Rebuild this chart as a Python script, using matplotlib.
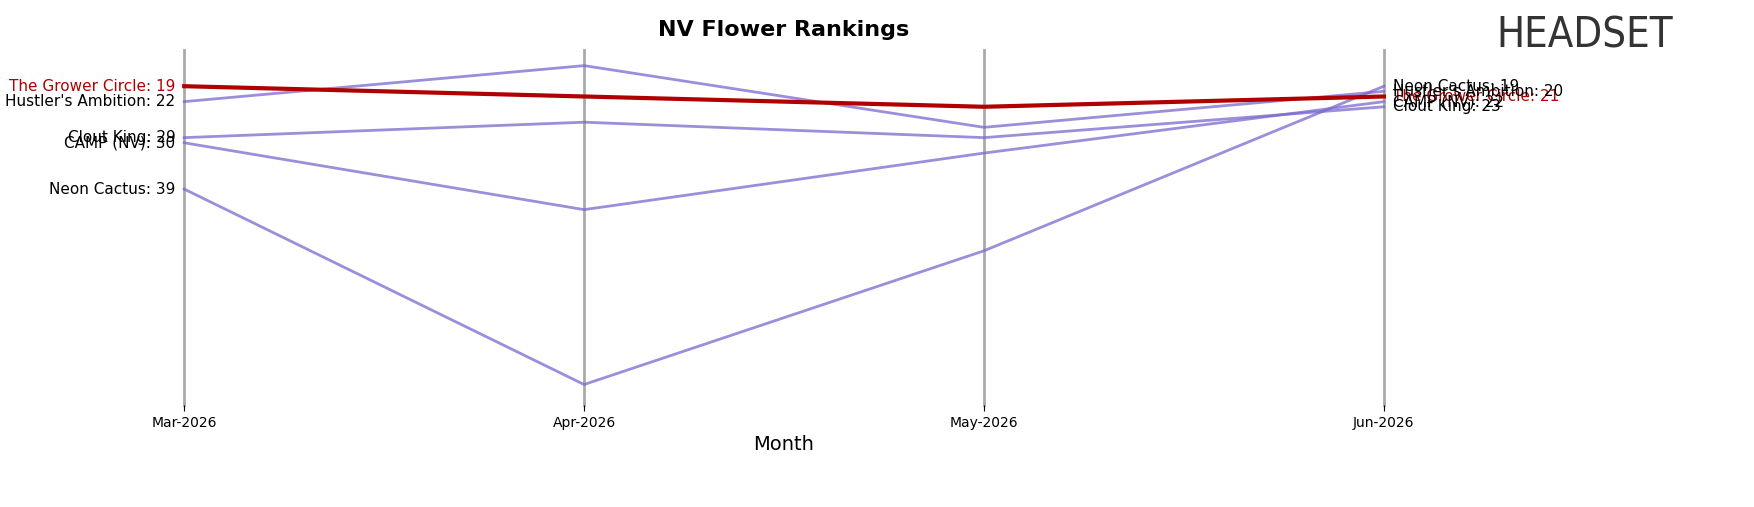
import matplotlib.pyplot as plt

months = ["Mar-2026", "Apr-2026", "May-2026", "Jun-2026"]
brands = ["The Grower Circle", "Hustler's Ambition", "Clout King", "CAMP (NV)", "Neon Cactus"]
ranks = {
    "The Grower Circle": [19, 21, 23, 21],
    "Hustler's Ambition": [22, 15, 27, 20],
    "Clout King": [29, 26, 29, 23],
    "CAMP (NV)": [30, 43, 32, 22],
    "Neon Cactus": [39, 77, 51, 19],
}
highlight = "The Grower Circle"

fig = plt.figure(figsize=(17.54, 5.07), dpi=100)
ax = fig.add_axes([0.105, 0.201, 0.684, 0.70])
x = list(range(len(months)))

for b in brands:
    if b == highlight:
        continue
    ax.plot(x, ranks[b], color="#7b68d0", alpha=0.75, linewidth=2, clip_on=False)
ax.plot(x, ranks[highlight], color="#b00000", linewidth=3, zorder=5, clip_on=False)

for b in brands:
    col = "#b00000" if b == highlight else "black"
    ax.text(-0.022, ranks[b][0], f"{b}: {ranks[b][0]}", ha="right", va="center", fontsize=11, color=col)
    ax.text(3.022, ranks[b][-1], f"{b}: {ranks[b][-1]}", ha="left", va="center", fontsize=11, color=col)

for xi in x:
    ax.axvline(xi, color="#aaaaaa", linewidth=2, zorder=0, clip_on=False)

ax.set_ylim(81, 12)
ax.set_xlim(0, 3)
ax.set_xticks(x)
ax.set_xticklabels(months, fontsize=10)
ax.set_yticks([])
ax.tick_params(axis="x", length=4)
for s in ax.spines.values():
    s.set_visible(False)
ax.set_xlabel("Month", fontsize=14)
ax.set_title("NV Flower Rankings", fontsize=16, fontweight="bold", pad=10)

fig.text(0.853, 0.93, "HEADSET", fontsize=30, color="#333333", va="center", ha="left", fontstretch="condensed")

fig.savefig("out.png", dpi=100)
